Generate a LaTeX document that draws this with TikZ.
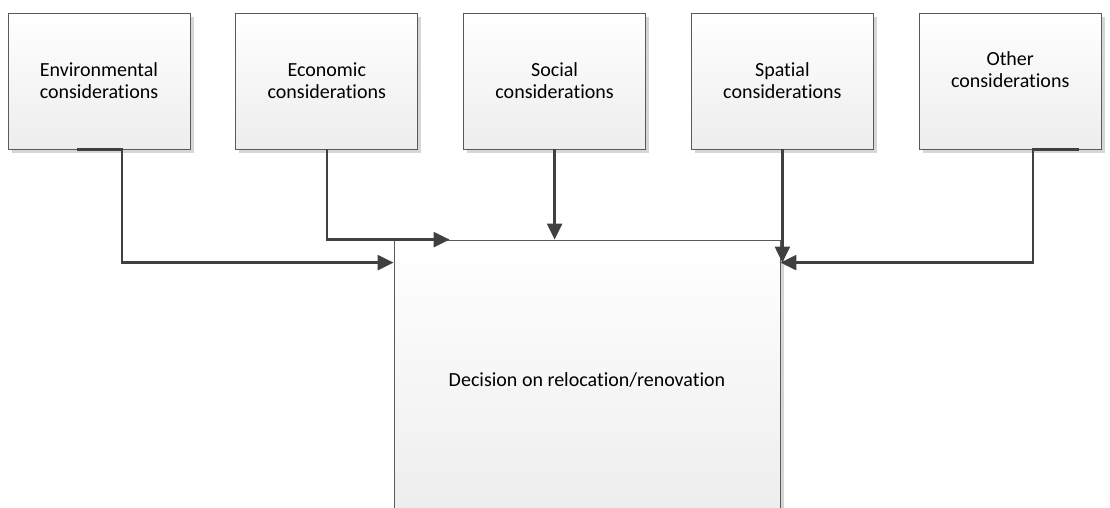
\documentclass[tikz,border=0pt]{standalone}
\usepackage{fontspec}
\setmainfont{Carlito}[Ligatures=NoCommon]
\usetikzlibrary{positioning, shadows, arrows.meta}
\definecolor{linegray}{HTML}{404040}
\definecolor{edgegray}{HTML}{5A5A5A}

\begin{document}
\begin{tikzpicture}[x=1pt, y=-1pt,
    font=\fontsize{20}{22}\selectfont,
    factor/.style={draw=edgegray, line width=0.8pt,
        top color=white, bottom color=black!7,
        minimum width=182pt, minimum height=136pt,
        inner sep=0pt, align=center,
        drop shadow={shadow xshift=3.5pt, shadow yshift=-3.5pt,
                     fill=black!16, opacity=1}},
    link/.style={draw=linegray, line width=2.4pt,
        -{Triangle[length=16pt,width=15pt]}}]
    \useasboundingbox (0,0) rectangle (1110,507);
    % Add the considerations
        \node[factor] (env) at (99,81) {Environmental\\considerations};
        \node[factor,
            right=45pt of env
            ] (eco) {Economic\\considerations};
        \node[factor,
            right=45pt of eco
            ] (soc) {Social\\considerations};
        \node[factor,
            right=45pt of soc
            ] (spa) {Spatial\\considerations};
        \node[factor,
            right=45pt of spa
            ] (oth) {Other\\considerations\\~};
    % Add the decision
        \node[factor,
            minimum width=386pt,
            minimum height=280pt
            ] (dec) at (587,380) {Decision on relocation/renovation};
        \coordinate (decleft) at ([yshift=-23pt]dec.north west);
        \coordinate (decright) at ([yshift=-23pt]dec.north east);

       \draw[link] ([xshift=-22pt]env.south) -- ([xshift=23pt]env.south)
            |- (decleft);
       \draw[link] (eco.south) |- ([xshift=56pt]dec.north west);
       \draw[link] (soc.south) -- (soc.south |- dec.north);
       \draw[link] (spa.south) -- (spa.south |- decright);
       \draw[link] ([xshift=69pt]oth.south) -- ([xshift=23pt]oth.south)
            |- (decright);
	\end{tikzpicture}
\end{document}
